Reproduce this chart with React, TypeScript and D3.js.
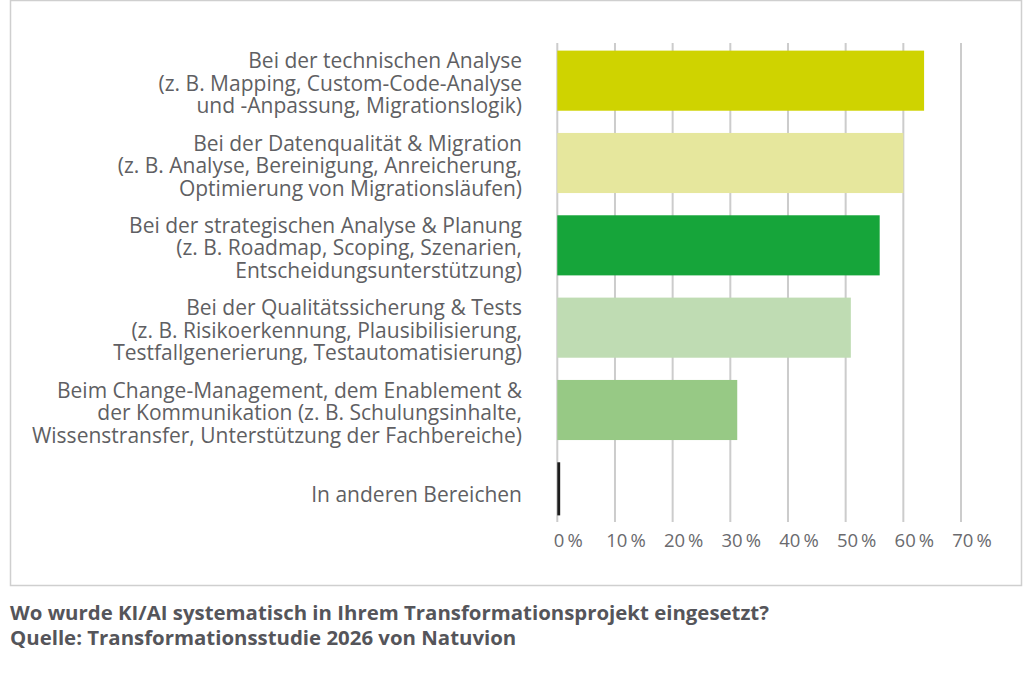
import React, { useEffect } from "react";
import * as d3 from "d3";

const categories: string[][] = [
  ["Bei der technischen Analyse", "(z. B. Mapping, Custom-Code-Analyse", "und -Anpassung, Migrationslogik)"],
  ["Bei der Datenqualität & Migration", "(z. B. Analyse, Bereinigung, Anreicherung,", "Optimierung von Migrationsläufen)"],
  ["Bei der strategischen Analyse & Planung", "(z. B. Roadmap, Scoping, Szenarien,", "Entscheidungsunterstützung)"],
  ["Bei der Qualitätssicherung & Tests", "(z. B. Risikoerkennung, Plausibilisierung,", "Testfallgenerierung, Testautomatisierung)"],
  ["Beim Change-Management, dem Enablement &", "der Kommunikation (z. B. Schulungsinhalte,", "Wissenstransfer, Unterstützung der Fachbereiche)"],
  ["In anderen Bereichen"],
];
const values: number[] = [63.6, 60.0, 55.9, 50.9, 31.2, 0.5];
const colors: string[] = ["#cfd300", "#e6e79d", "#16a53a", "#bfdcb3", "#97c985", "#1c1c1c"];
const ticks: number[] = [0, 10, 20, 30, 40, 50, 60, 70];
const titleLines: string[] = [
  "Wo wurde KI/AI systematisch in Ihrem Transformationsprojekt eingesetzt?",
  "Quelle: Transformationsstudie 2026 von Natuvion",
];

export default function App() {
  useEffect(() => {
    document.body.style.margin = "0";
  }, []);

  const x = d3.scaleLinear().domain([0, 70]).range([557.3, 961]);
  const y = d3
    .scaleBand<number>()
    .domain(d3.range(values.length))
    .range([39.5, 533.5])
    .paddingInner(0.27)
    .paddingOuter(0.135);

  const font = "'Open Sans', sans-serif";
  const lh = 22.5;

  return (
    <svg width={1024} height={692} style={{ display: "block" }} fontFamily={font}>
      <rect x={0} y={0} width={1024} height={692} fill="#fff" />
      <rect x={10.5} y={0.5} width={1011} height={585} fill="none" stroke="#cfcfcf" strokeWidth={1.5} />
      {ticks.map((t) => (
        <line key={t} x1={x(t)} x2={x(t)} y1={43} y2={522} stroke="#cccccc" strokeWidth={2} />
      ))}
      {values.map((v, i) => (
        <rect
          key={i}
          x={x(0)}
          y={y(i)}
          width={Math.max(0, x(v) - x(0))}
          height={i === values.length - 1 ? y.bandwidth() - 7 : y.bandwidth()}
          fill={colors[i]}
        />
      ))}
      {categories.map((lines, i) => {
        const cy = (y(i) as number) + y.bandwidth() / 2 + 2;
        const start = cy - ((lines.length - 1) * lh) / 2;
        return (
          <text key={i} textAnchor="end" fontSize={21} fill="#5f5f63">
            {lines.map((l, j) => (
              <tspan key={j} x={522} y={start + j * lh} dominantBaseline="central">
                {l}
              </tspan>
            ))}
          </text>
        );
      })}
      {ticks.map((t) => (
        <text key={t} x={x(t) + 11} y={539} textAnchor="middle" dominantBaseline="central" fontSize={18.5} fill="#6a6a6e">
          {`${t}\u2009%`}
        </text>
      ))}
      {titleLines.map((l, j) => (
        <text key={j} x={10} y={620 + j * 25} fontSize={20.4} fontWeight={700} fill="#55555a">
          {l}
        </text>
      ))}
    </svg>
  );
}
